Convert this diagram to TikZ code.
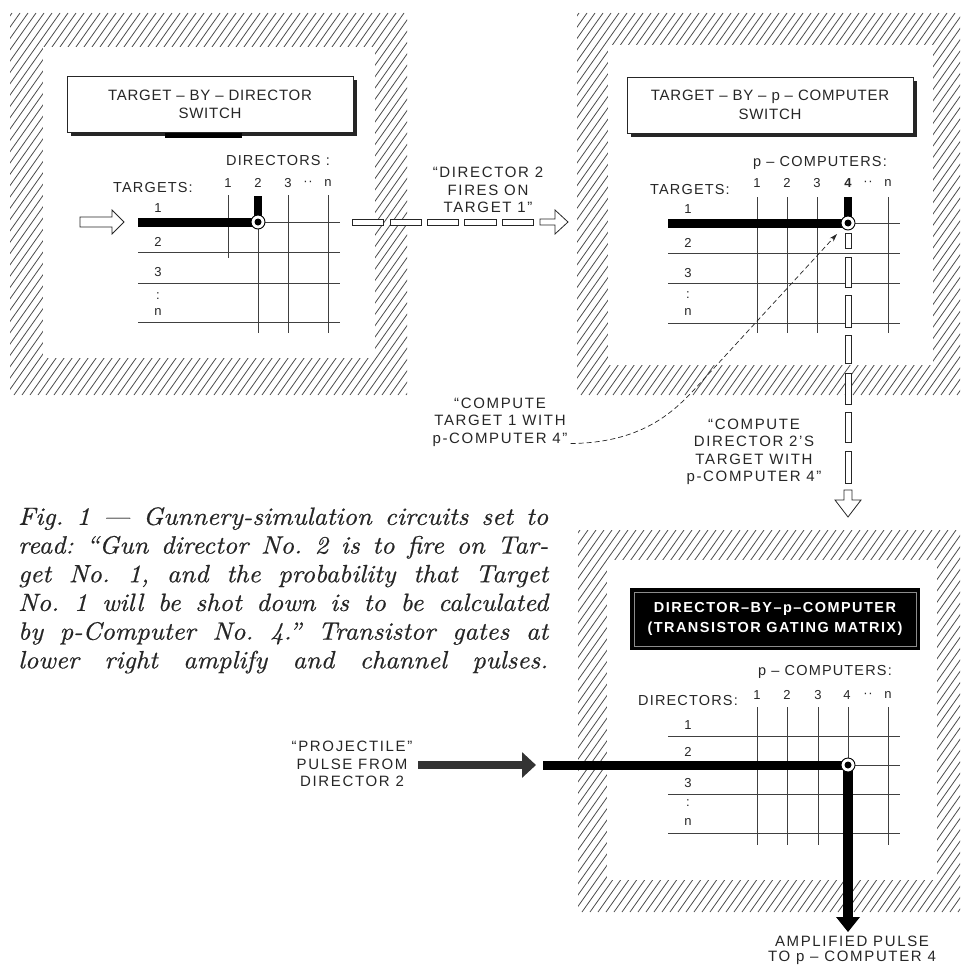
\documentclass[tikz,border=0pt]{standalone}
\usepackage{fontspec}
\newfontfamily\labfont[LetterSpace=5]{Liberation Sans}
\newfontfamily\labhead[LetterSpace=8]{Liberation Sans}
\newfontfamily\labquote[LetterSpace=11]{Liberation Sans}
\newfontfamily\labwide[LetterSpace=10]{Liberation Sans}
\newfontfamily\capfont{lmroman10-italic}[Extension=.otf, FakeStretch=1.05, FakeBold=0.6]
\usetikzlibrary{arrows.meta}
\newcommand\myhatch[8]{%
  \begin{scope}
    \clip (#1,#2) rectangle (#3,#4);
    \foreach \s in {-300,-292,...,400}
      \draw[hatchline] ({#1+\s},#4) -- ({#1+\s+270},#2);
  \end{scope}
  \fill[white] (#5,#6) rectangle (#7,#8);
}
\newcommand\capline[1]{\hbox to 530pt{#1}}
\begin{document}
\begin{tikzpicture}[x=1pt,y=-1pt,
  lab/.style={font=\labhead\fontsize{14.5}{17}\selectfont, inner sep=0pt, align=center, text=black!85},
  qlab/.style={font=\labquote\fontsize{15}{17.5}\selectfont, inner sep=0pt, align=center, text=black!85},
  dig/.style={font=\labfont\fontsize{13}{15}\selectfont, inner sep=0pt, text=black!85},
  ttl/.style={font=\labfont\fontsize{15}{18}\selectfont, inner sep=0pt, align=center, text=black!85},
  gline/.style={line width=0.8pt, draw=black!75},
  tbar/.style={line width=9pt, draw=black},
  seg/.style={draw=black!85, line width=0.7pt, fill=white},
  hatchline/.style={line width=0.8pt, draw=black!70},
  hollow/.style={draw=black!85, line width=0.8pt, fill=white},
  junc/.style={circle, draw=black, line width=0.9pt, fill=white, minimum size=14pt, inner sep=0pt},
  captxt/.style={font=\capfont\fontsize{25}{28.7}\selectfont, inner sep=0pt, anchor=north west, text=black!85}
]
\useasboundingbox (0,0) rectangle (961,966);

% ---------------- panels
\myhatch{10}{13}{407}{395}{43}{47}{375}{358}
\myhatch{577}{13}{960}{395}{608}{45}{933}{365}
\myhatch{578}{530}{960}{912}{607}{560}{937}{880}

% ---------------- top-left switch
\fill[black!85] (71,80) rectangle (357,136);
\fill[black] (165,131) rectangle (242,138);
\node[ttl, draw=black!85, line width=0.8pt, fill=white, minimum width=286pt, minimum height=56pt] (tltitle) at (210,104) {TARGET – BY – DIRECTOR\\SWITCH};

\coordinate (j1) at (258,222);
\draw[gline] (228,195) -- (228,258);
\draw[gline] (j1) -- (258,333);
\foreach \x in {288,328} \draw[gline] (\x,195) -- (\x,333);
\draw[gline] (j1) -- (340,222);
\foreach \y in {252,283,322} \draw[gline] (138,\y) -- (340,\y);
\draw[tbar] (138,222) -- (j1);
\draw[line width=8pt] (258,196) -- (j1);
\node[junc] (j1c) at (j1) {};
\fill (j1) circle[radius=3.5pt];

\node[lab] (tldir) at (278,161) {DIRECTORS :};
\node[lab] (tltar) at (153,188) {TARGETS:};
\node[dig] (tlc1) at (228,183) {1};
\node[dig] (tlc2) at (258,183) {2};
\node[dig] (tlc3) at (288,183) {3};
\node[dig] (tlcd) at (308,183) {··};
\node[dig] (tlcn) at (328,183) {n};
\node[dig] (tlr1) at (158,208) {1};
\node[dig] (tlr2) at (158,242) {2};
\node[dig] (tlr3) at (158,272) {3};
\node[dig] (tlrd) at (158,296) {:};
\node[dig] (tlrn) at (158,312) {n};

\draw[hollow] (80,217) -- (112,217) -- (112,210) -- (124,222) -- (112,234) -- (112,227) -- (80,227) -- cycle;

% ---------------- channel top-left -> top-right
\foreach \a/\b in {352/383,390/421,427/458,464/496,502/533}
  \draw[seg] (\a,219) rectangle (\b,225);
\draw[hollow] (540,219) -- (555,219) -- (555,210) -- (568,222) -- (555,234) -- (555,225) -- (540,225) -- cycle;
\node[qlab] (fires) at (488,190) {“DIRECTOR 2\\FIRES ON\\TARGET 1”};

% ---------------- top-right switch
\fill[black!85] (631,81) rectangle (917,137);
\node[ttl, draw=black!85, line width=0.8pt, fill=white, minimum width=286pt, minimum height=56pt] (trtitle) at (770,105) {TARGET – BY – p – COMPUTER\\[1pt]SWITCH};

\coordinate (j2) at (848,223);
\foreach \x in {757,787,817,888} \draw[gline] (\x,197) -- (\x,333);
\foreach \y in {253,283,323} \draw[gline] (668,\y) -- (900,\y);
\draw[gline] (j2) -- (900,223);
\draw[tbar] (668,223) -- (j2);
\draw[line width=8pt] (848,197) -- (j2);
\foreach \a/\b in {233/248,257/287,295/327,335/363,373/404,412/442,451/483}
  \draw[seg] (845,\a) rectangle (851,\b);
\draw[hollow] (844,490) -- (852,490) -- (852,500) -- (861,500) -- (848,517) -- (835,500) -- (844,500) -- cycle;
\node[junc] (j2c) at (j2) {};
\fill (j2) circle[radius=3.5pt];

\node[lab] (trpc) at (820,163) {p – COMPUTERS:};
\node[lab] (trtar) at (690,190) {TARGETS:};
\node[dig] (trc1) at (757,183) {1};
\node[dig] (trc2) at (787,183) {2};
\node[dig] (trc3) at (817,183) {3};
\node[dig] (trc4) at (848,183) {\bfseries 4};
\node[dig] (trcd) at (868,183) {··};
\node[dig] (trcn) at (888,183) {n};
\node[dig] (trr1) at (688,209) {1};
\node[dig] (trr2) at (688,243) {2};
\node[dig] (trr3) at (688,273) {3};
\node[dig] (trrd) at (688,295) {:};
\node[dig] (trrn) at (688,312) {n};

% ---------------- labels between panels
\node[qlab] (comp1) at (500,422) {“COMPUTE\\TARGET 1 WITH\\p-COMPUTER 4”};
\node[qlab] (comp2) at (754,452) {“COMPUTE\\DIRECTOR 2’S\\TARGET WITH\\p-COMPUTER 4”};
\coordinate (arrtip) at (837,234);
\draw[black!85, line width=0.7pt, dash pattern=on 5pt off 3pt, -{Stealth[length=8pt,width=5pt]}]
  (comp1.south east) ++(3,-3) .. controls (640,443) and (672,413) .. (692,392) -- (arrtip);

% ---------------- bottom-right matrix
\node[font=\labwide\bfseries\fontsize{14.5}{20}\selectfont, text=white, fill=black, align=center, inner sep=0pt, minimum width=290pt, minimum height=62pt] (brtitle) at (775,619) {DIRECTOR–BY–p–COMPUTER\\(TRANSISTOR GATING MATRIX)};
\draw[black!45, line width=0.6pt] (634,592) rectangle (916,646);

\coordinate (j3) at (848,765);
\foreach \x in {757,787,818,888} \draw[gline] (\x,707) -- (\x,845);
\draw[gline] (848,707) -- (j3);
\foreach \y in {736,794,833} \draw[gline] (668,\y) -- (900,\y);
\draw[gline] (j3) -- (900,765);

\node[lab] (brpc) at (825,672) {p – COMPUTERS:};
\node[lab] (brdir) at (688,700) {DIRECTORS:};
\node[dig] (brc1) at (757,695) {1};
\node[dig] (brc2) at (787,695) {2};
\node[dig] (brc3) at (818,695) {3};
\node[dig] (brc4) at (847,695) {4};
\node[dig] (brcd) at (868,695) {··};
\node[dig] (brcn) at (888,695) {n};
\node[dig] (brr1) at (688,725) {1};
\node[dig] (brr2) at (688,752) {2};
\node[dig] (brr3) at (688,783) {3};
\node[dig] (brrd) at (688,803) {:};
\node[dig] (brrn) at (688,822) {n};

\node[qlab] (proj) at (352,764) {“PROJECTILE”\\PULSE FROM\\DIRECTOR 2};
\coordinate (pa) at (418,765);
\coordinate (pb) at (536,765);
\draw[line width=8pt, black!80, -{Triangle[length=14pt,width=25pt]}] (pa) -- (pb);
\draw[tbar] (543,765) -- (j3);
\draw[line width=10pt] (j3) -- (848,918);
\coordinate (outtip) at (848,932);
\fill (836,917) -- (860,917) -- (outtip) -- cycle;
\node[junc] (j3c) at (j3) {};
\fill (j3) circle[radius=3.5pt];

\node[qlab, font=\labquote\fontsize{15}{15}\selectfont] (amp) at (852,950) {AMPLIFIED PULSE\\TO p – COMPUTER 4};

% ---------------- caption
\node[captxt] (caption) at (18,507) {\parbox{530pt}{\frenchspacing
\capline{Fig. 1 — Gunnery-simulation circuits set to}
\capline{read: “Gun director No. 2 is to fire on Tar-}
\capline{get No. 1, and the probability that Target}
\capline{No. 1 will be shot down is to be calculated}
\capline{by p-Computer No. 4.” Transistor gates at}
\capline{lower right amplify and channel pulses.}}};
\end{tikzpicture}
\end{document}
